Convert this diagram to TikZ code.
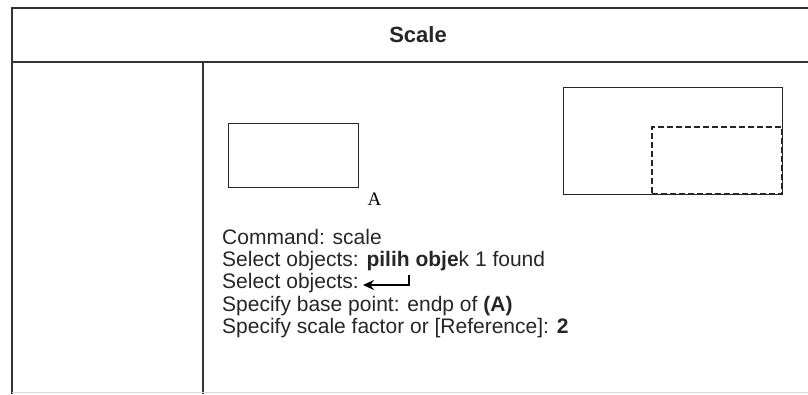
\documentclass[tikz,border=0pt]{standalone}
\usepackage{fontspec}
\setmainfont{Liberation Sans}
\newfontfamily\labelfont{Liberation Serif}
\usetikzlibrary{arrows.meta}
\begin{document}
\begin{tikzpicture}[x=1pt, y=-1pt,
        frame/.style={draw=black!80, line width=1.8pt},
        objbox/.style={draw=black!85, line width=1.3pt, minimum width=130pt,
            minimum height=64pt, inner sep=0pt, anchor=north west},
        cmd/.style={anchor=base west, inner sep=0pt, text=black!85,
            font=\fontsize{21}{22}\selectfont}]
    \useasboundingbox (0,0) rectangle (808,394);
    % table
    \draw[frame] (808,8) -- (12,8) -- (12,394);
    \draw[frame] (12,62) -- (808,62);
    \draw[frame] (203,62) -- (203,394);
    \draw[black!15, line width=1pt] (12,392) -- (808,392);
    \node[font=\bfseries\fontsize{22}{24}\selectfont, text=black!85] (title) at (418,35) {Scale};
    % objects
    \node[objbox] (obj) at (228,123) {};
    \node[font=\labelfont\fontsize{19}{20}\selectfont, anchor=north west,
        inner sep=0pt] (ptA) at ([xshift=8pt, yshift=-4pt]obj.south east) {A};
    \node[objbox, minimum width=219pt, minimum height=107pt] (big) at (563,87) {};
    \node[objbox, line width=2pt, dash pattern=on 6pt off 3pt,
        minimum height=67pt, anchor=south east] (scaled) at (big.south east) {};
    % command lines
    \node[cmd] (l1) at (222,244) {Command: scale};
    \node[cmd] (l2) at (222,266) {Select objects: \textbf{pilih obje}k 1 found};
    \node[cmd] (l3) at (222,288) {Select objects:};
    \node[cmd] (l4) at (222,311) {Specify base point: endp of \textbf{(A)}};
    \node[cmd] (l5) at (222,333) {Specify scale factor or [Reference]: \textbf{2}};
    \coordinate (enter) at ([xshift=50pt, yshift=3pt]l3.base east);
    \draw[line width=2pt, -{Stealth[length=11pt, width=10pt]}]
        ([yshift=10pt]enter) -- (enter) -- ([xshift=4pt, yshift=3pt]l3.base east);
\end{tikzpicture}
\end{document}
